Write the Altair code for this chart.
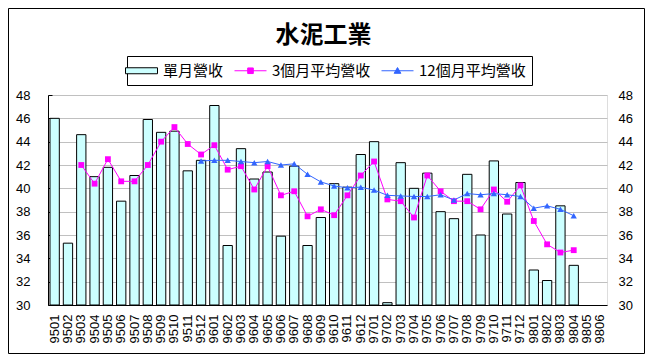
import altair as alt
import pandas as pd

months = [f"{y}{m:02d}" for y in (95, 96, 97) for m in range(1, 13)] + [f"98{m:02d}" for m in range(1, 7)]

monthly = [46.0, 35.3, 44.6, 41.0, 41.8, 38.9, 41.1, 45.9, 44.8, 44.9, 41.5, 42.4,
           47.1, 35.1, 43.4, 40.8, 41.4, 35.9, 41.9, 35.1, 37.5, 40.4, 40.1, 42.9,
           44.0, 30.2, 42.2, 40.0, 41.3, 38.0, 37.4, 41.2, 36.0, 42.35, 37.8, 40.5,
           33.0, 32.1, 38.5, 33.4]

avg3 = [42.0, 40.4, 42.5, 40.6, 40.6, 42.0, 44.0, 45.25, 43.8, 42.9,
        43.7, 41.6, 41.9, 39.9, 41.9, 39.4, 39.75, 37.6, 38.2, 37.7, 39.4, 41.1,
        42.3, 39.05, 38.9, 37.5, 41.1, 39.75, 38.9, 38.9, 38.2, 39.9, 38.85, 40.25,
        37.2, 35.2, 34.5, 34.7]

avg12 = [42.35,
         42.4, 42.4, 42.3, 42.2, 42.3, 42.0, 42.1, 41.2, 40.55, 40.2, 40.05, 40.1,
         39.85, 39.4, 39.35, 39.3, 39.3, 39.45, 39.0, 39.55, 39.45, 39.55, 39.45, 39.3,
         38.3, 38.5, 38.2, 37.65]

S1, S3, S12 = "單月營收", "3個月平均營收", "12個月平均營收"
series = [S1, S3, S12]
yticks = list(range(30, 49, 2))

bar_df = pd.DataFrame({"month": months[:len(monthly)], "value": monthly})
a3_df = pd.DataFrame({"month": months[2:2 + len(avg3)], "value": avg3})
a12_df = pd.DataFrame({"month": months[11:11 + len(avg12)], "value": avg12})
legend_df = pd.DataFrame({"series": series})

CJK = "Noto Sans CJK TC"
NUM = "Liberation Sans"
MAG = "#FF00FF"
BLUE = "#3366FF"

xscale = alt.Scale(domain=months, paddingInner=0.3, paddingOuter=0.15)
yscale = alt.Scale(domain=[30, 48], nice=False, zero=False)

x_axis = alt.Axis(orient="bottom", labelAngle=270, labelPadding=9, labelOverlap=False,
                  ticks=False, domainColor="black", labelFont=NUM, labelFontSize=13,
                  labelColor="black", grid=False, title=None)
y_left = alt.Axis(orient="left", values=yticks, grid=True, gridColor="#C0C0C0", ticks=False,
                  domainColor="black", labelPadding=18, labelFont=NUM, labelFontSize=13,
                  labelColor="black", title=None)
y_right = alt.Axis(orient="right", values=yticks, grid=False, ticks=False, domain=False,
                   labelPadding=11, labelFont=NUM, labelFontSize=13, labelColor="black", title=None)
y_ticks_in = alt.Axis(orient="left", values=yticks, offset=-4, tickSize=4, tickColor="black",
                      labels=False, domain=False, grid=False, title=None)

X = alt.X("month:N", scale=xscale, axis=x_axis)

bars = alt.Chart(bar_df).mark_bar(fill="#CCFFFF", stroke="black", strokeWidth=1).encode(
    x=X,
    y=alt.Y("value:Q", scale=yscale, axis=y_left),
    y2=alt.datum(30),
)

line3 = alt.Chart(a3_df).mark_line(color=MAG, strokeWidth=1).encode(
    x=X,
    y=alt.Y("value:Q", scale=yscale, axis=y_right),
)
pts3 = alt.Chart(a3_df).mark_point(shape="square", filled=True, color=MAG, size=34, opacity=1).encode(
    x=X,
    y=alt.Y("value:Q", scale=yscale, axis=y_ticks_in),
)
line12 = alt.Chart(a12_df).mark_line(color=BLUE, strokeWidth=1).encode(
    x=X,
    y=alt.Y("value:Q", scale=yscale, axis=None),
)
pts12 = alt.Chart(a12_df).mark_point(shape="triangle-up", filled=True, color=BLUE, size=40, opacity=1).encode(
    x=X,
    y=alt.Y("value:Q", scale=yscale, axis=None),
)

rect_path = "M-2,-0.375H2V0.375H-2Z"
sq_path = "M-2,0H2M-0.35,-0.35H0.35V0.35H-0.35Z"
tri_path = "M-2,0H2M0,-0.4L0.42,0.32H-0.42Z"

legend = alt.Legend(orient="none", legendX=79, legendY=-39, direction="horizontal", columns=3,
                    title=None, symbolSize=256, symbolStrokeWidth=1, symbolOpacity=1,
                    labelFont=CJK, labelFontSize=15, labelColor="black", labelOffset=13,
                    columnPadding=8, padding=6, strokeColor="black")
legend_layer = alt.Chart(legend_df).mark_point(filled=True, opacity=0).encode(
    fill=alt.Fill("series:N", scale=alt.Scale(domain=series, range=["#CCFFFF", MAG, BLUE]), legend=legend),
    stroke=alt.Stroke("series:N", scale=alt.Scale(domain=series, range=["black", MAG, BLUE]), legend=legend),
    shape=alt.Shape("series:N", scale=alt.Scale(domain=series, range=[rect_path, sq_path, tri_path]), legend=legend),
)

border = alt.Chart(legend_df.head(1)).mark_rect(fill=None, stroke="black", strokeWidth=1, clip=False).encode(
    x=alt.value(-39.5), x2=alt.value(596.5), y=alt.value(-86.5), y2=alt.value(258.5)
)

chart = alt.layer(bars, line3, pts3, line12, pts12, legend_layer, border).resolve_axis(
    y="independent"
).properties(
    width=559, height=210,
    title=alt.TitleParams("水泥工業", font=CJK, fontSize=24, fontWeight="bold", color="black",
                          anchor="middle", offset=-40, dx=-4),
    autosize=alt.AutoSizeParams(type="none"),
    padding={"left": 40, "top": 87, "right": 38, "bottom": 49},
).configure_view(stroke="#808080").configure(background="white")

chart.save("out.html", embed_options={"renderer": "svg", "actions": False})
